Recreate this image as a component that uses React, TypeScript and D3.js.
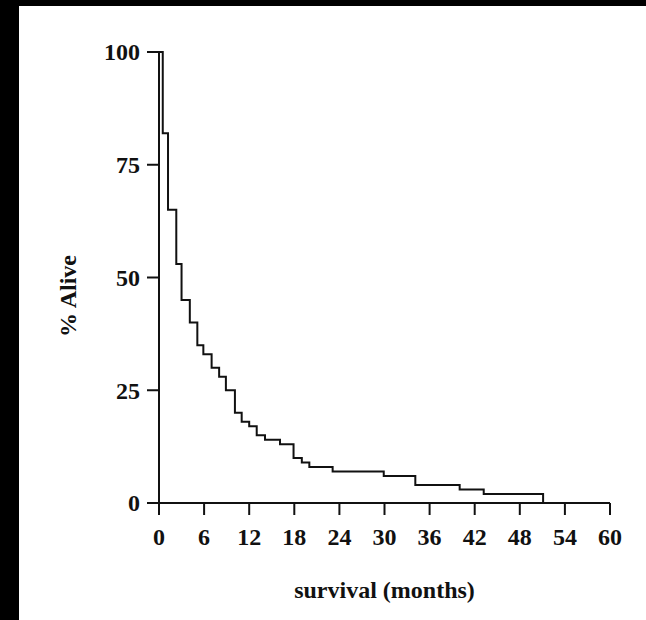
import React from "react";
import * as d3 from "d3";

const stepTimes: number[] = [0, 0.5, 1.2, 2.3, 3.0, 4.1, 5.1, 5.9, 7.0, 8.0, 8.9, 10.1, 11.0, 12.0, 13.0, 14.1, 16.1, 17.9, 19.0, 20.0, 23.1, 29.9, 34.1, 40.0, 43.2, 51.1];
const stepValues: number[] = [100, 82, 65, 53, 45, 40, 35, 33, 30, 28, 25, 20, 18, 17, 15, 14, 13, 10, 9, 8, 7, 6, 4, 3, 2, 0];
const xTicks: number[] = [0, 6, 12, 18, 24, 30, 36, 42, 48, 54, 60];
const yTicks: number[] = [0, 25, 50, 75, 100];
const xTitle = "survival (months)";
const yTitle = "% Alive";

const W = 646;
const H = 620;
const FONT = "'Liberation Serif', 'Times New Roman', serif";

export default function App() {
  const x = d3.scaleLinear().domain([0, 60]).range([159, 610]);
  const y = d3.scaleLinear().domain([0, 100]).range([503, 52]);

  const pts: [number, number][] = stepTimes.map((t, i) => [t, stepValues[i]]);
  pts.push([60, 0]);
  const line = d3
    .line<[number, number]>()
    .x((d) => x(d[0]))
    .y((d) => y(d[1]))
    .curve(d3.curveStepAfter);

  const stroke = "#111";

  return (
    <svg
      width={W}
      height={H}
      style={{ position: "absolute", left: 0, top: 0, background: "#fff" }}
    >
      <rect x={0} y={0} width={W} height={H} fill="#fff" />
      <rect x={0} y={0} width={19} height={H} fill="#000" />
      <rect x={0} y={0} width={W} height={6} fill="#000" />

      {/* axes */}
      <line x1={x(0)} x2={x(0)} y1={y(100)} y2={y(0)} stroke={stroke} strokeWidth={2} />
      <line x1={x(0)} x2={x(60)} y1={y(0)} y2={y(0)} stroke={stroke} strokeWidth={2} />

      {yTicks.map((v) => (
        <g key={"y" + v}>
          <line x1={x(0) - 12} x2={x(0)} y1={y(v)} y2={y(v)} stroke={stroke} strokeWidth={2} />
          <text
            x={140}
            y={y(v)}
            dy="0.35em"
            textAnchor="end"
            fontFamily={FONT}
            fontWeight="bold"
            fontSize={24}
            fill="#111"
          >
            {v}
          </text>
        </g>
      ))}

      {xTicks.map((v) => (
        <g key={"x" + v}>
          <line x1={x(v)} x2={x(v)} y1={y(0)} y2={y(0) + 12} stroke={stroke} strokeWidth={2} />
          <text
            x={x(v)}
            y={545}
            textAnchor="middle"
            fontFamily={FONT}
            fontWeight="bold"
            fontSize={24}
            fill="#111"
          >
            {v}
          </text>
        </g>
      ))}

      <path d={line(pts) || ""} fill="none" stroke={stroke} strokeWidth={2} />

      <text
        x={(x(0) + x(60)) / 2}
        y={598}
        textAnchor="middle"
        fontFamily={FONT}
        fontWeight="bold"
        fontSize={24}
        fill="#111"
      >
        {xTitle}
      </text>
      <text
        transform={`translate(68, 296) rotate(-90)`}
        textAnchor="middle"
        dy="0.35em"
        fontFamily={FONT}
        fontWeight="bold"
        fontSize={24}
        fill="#111"
      >
        {yTitle}
      </text>
    </svg>
  );
}
